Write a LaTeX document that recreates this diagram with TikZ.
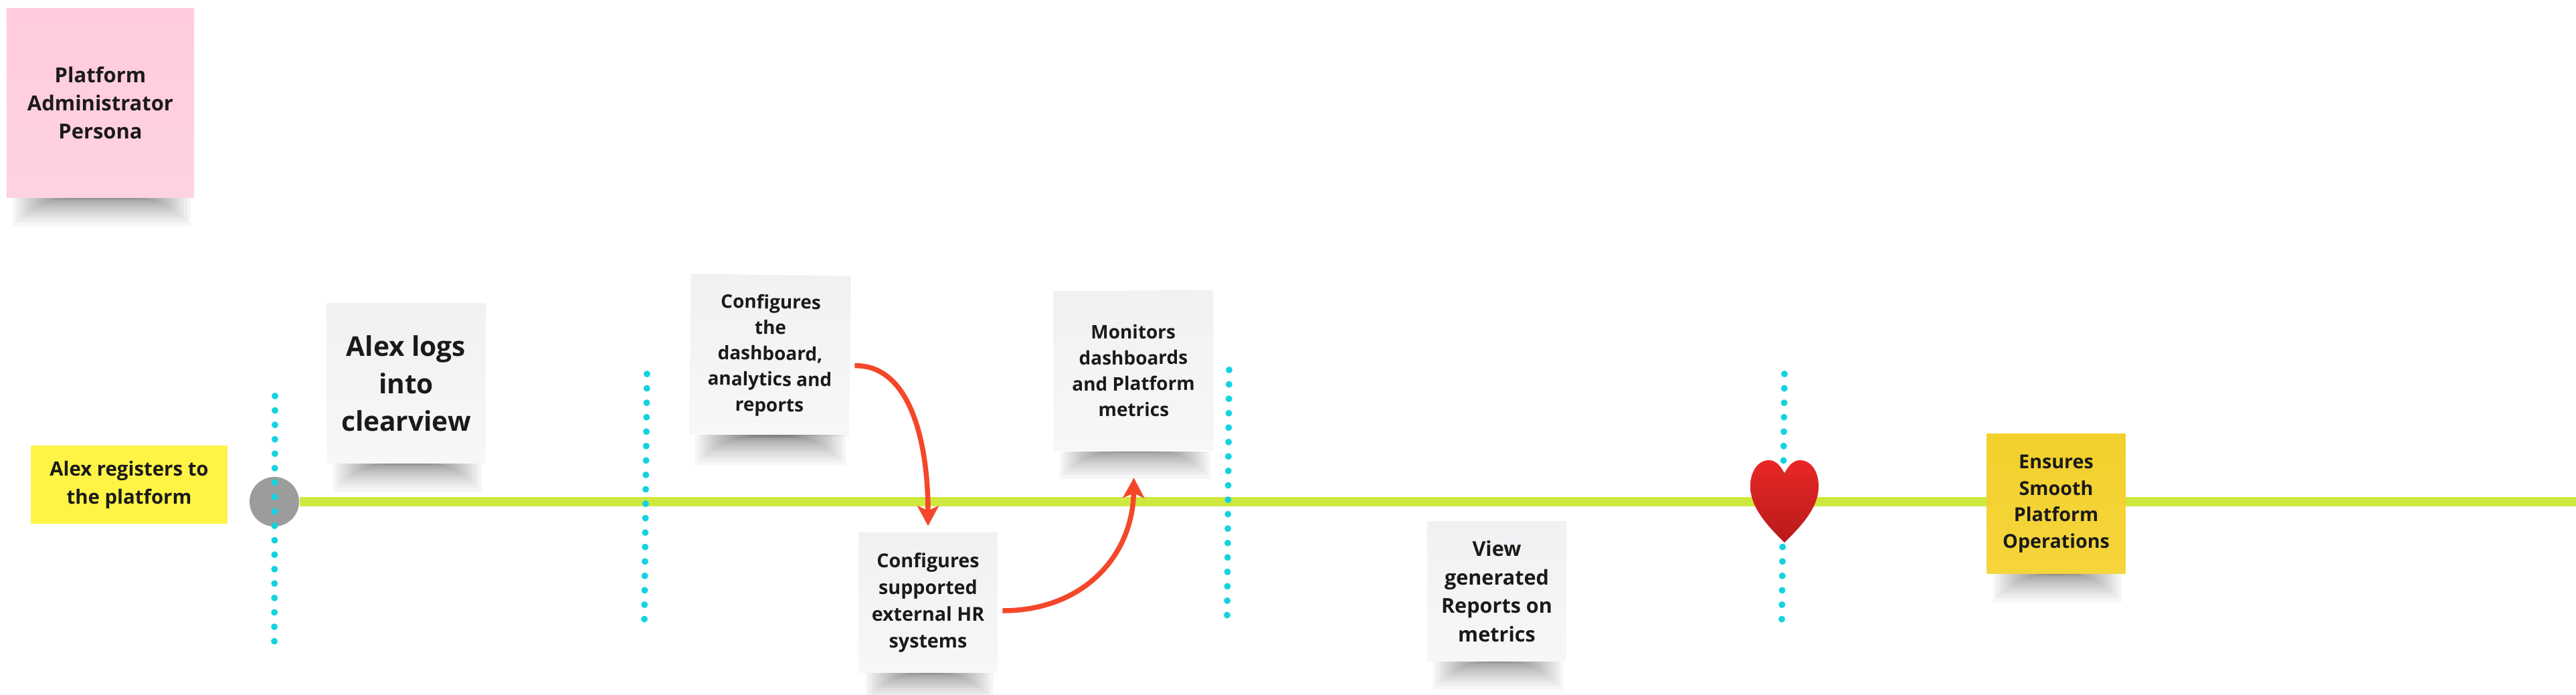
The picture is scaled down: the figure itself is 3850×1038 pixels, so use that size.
\documentclass[tikz,border=0pt]{standalone}
\usepackage{fontspec}
\setmainfont{Open Sans}
\usetikzlibrary{arrows.meta}

\definecolor{inkdark}{HTML}{1A1A1A}
\definecolor{railgreen}{HTML}{CEE83F}
\definecolor{dotcyan}{HTML}{14D3DF}
\definecolor{flowred}{HTML}{F4472A}
\definecolor{startgray}{HTML}{9C9C9C}
\definecolor{heartlight}{HTML}{E82727}
\definecolor{heartdark}{HTML}{B81A1A}
\definecolor{pink1}{HTML}{FFCBDD}
\definecolor{pink2}{HTML}{FFD2E1}
\definecolor{regyellow}{HTML}{FFF445}
\definecolor{gray1}{HTML}{F0F1F3}
\definecolor{gray2}{HTML}{F6F7F9}
\definecolor{ops1}{HTML}{F2D02C}
\definecolor{ops2}{HTML}{F5D53C}

\newcommand{\notefont}[2]{\bfseries\fontsize{#1}{#2}\selectfont}

\tikzset{
    note/.style={inner sep=0pt, align=center, text=inkdark},
    railline/.style={line width=0.14cm, railgreen},
    dotline/.style={line width=0.1cm, dotcyan, line cap=round, dash pattern=on 0pt off 0.2155cm},
    flowline/.style={->, line width=0.075cm, flowred},
}

% ombra sotto i foglietti
\newcommand{\noteshadow}[1]{%
    \foreach \i [evaluate=\i as \h using {42*(1-\i/18)^2.4}] in {0,...,17}
        \fill[black, opacity=0.035]
            ([shift={(10+\i*5,0)}]#1.south west) rectangle ([shift={(-6-\i*5,\h)}]#1.south east);
}

\begin{document}
\begin{tikzpicture}[x=0.01cm, y=-0.01cm, >={Stealth[length=0.3cm, width=0.32cm, inset=0.07cm]}]
    \useasboundingbox (0,0) rectangle (3850,1038);

    % Linea del percorso
    \coordinate (railend) at (3850,750);
    \node[circle, fill=startgray, minimum size=0.74cm, inner sep=0pt] (start) at (410,750) {};
    \draw[railline] (start.east) -- (railend);

    % Linee punteggiate
    \coordinate (dotsAtop) at (411,592);
    \coordinate (dotsAbot) at (410,959);
    \coordinate (dotsBtop) at (967,559);
    \coordinate (dotsBbot) at (963,926);
    \coordinate (dotsCtop) at (1837,553);
    \coordinate (dotsCbot) at (1834,920);
    \coordinate (dotsDtop) at (2667,559);
    \coordinate (dotsDbot) at (2663,926);
    \draw[dotline] (dotsAtop) -- (dotsAbot);
    \draw[dotline] (dotsBtop) -- (dotsBbot);
    \draw[dotline] (dotsCtop) -- (dotsCbot);
    \draw[dotline] (dotsDtop) -- (dotsDbot);

    % Foglietti
    \node[note, top color=pink1, bottom color=pink2, minimum width=2.8cm, minimum height=2.82cm, font=\notefont{8.8}{11.95}] (persona) at (150,154)
        {Platform\\Administrator\\Persona};
    \node[note, fill=regyellow, minimum width=2.94cm, minimum height=1.17cm, font=\notefont{8.35}{11.95}] (register) at (193,724.5)
        {Alex registers to\\the platform};
    \node[note, top color=gray1, bottom color=gray2, minimum width=2.37cm, minimum height=2.38cm, font=\notefont{11.55}{15.9}] (login) at (607,573)
        {Alex logs\\into\\clearview};
    \node[note, top color=gray1, bottom color=gray2, minimum width=2.39cm, minimum height=2.4cm, rotate=-0.8, font=\notefont{7.95}{10.95}] (dash) at (1151,531)
        {Configures\\the\\dashboard,\\analytics and\\reports};
    \node[note, top color=gray1, bottom color=gray2, minimum width=2.39cm, minimum height=2.39cm, rotate=0.3, font=\notefont{7.95}{11}] (monitor) at (1694,554)
        {Monitors\\dashboards\\and Platform\\metrics};
    \node[note, top color=gray1, bottom color=gray2, minimum width=2.07cm, minimum height=2.08cm, font=\notefont{8.15}{11.4}] (external) at (1387,901)
        {Configures\\supported\\external HR\\systems};
    \node[note, top color=gray1, bottom color=gray2, minimum width=2.08cm, minimum height=2.08cm, font=\notefont{8.7}{12.2}] (reports) at (2237,884)
        {View\\generated\\Reports on\\metrics};
    \node[note, top color=ops1, bottom color=ops2, minimum width=2.07cm, minimum height=2.08cm, font=\notefont{8.15}{11.25}] (operations) at (3073,753)
        {Ensures\\Smooth\\Platform\\Operations};

    % Ombre
    \noteshadow{persona}
    \noteshadow{login}
    \noteshadow{dash}
    \noteshadow{monitor}
    \noteshadow{external}
    \noteshadow{reports}
    \noteshadow{operations}

    % Frecce
    \draw[flowline] ([shift={(6,14)}]dash.east)
        .. controls (1360,545) and (1387,660) .. ([shift={(0,-10)}]external.north);
    \draw[flowline] ([shift={(7,12)}]external.east)
        .. controls (1620,913) and (1693,830) .. ([shift={(0,40)}]monitor.south);

    % Cuore
    \shade[top color=heartlight, bottom color=heartdark]
        (2667,708) .. controls (2662,697) and (2654,688) .. (2644,688)
        .. controls (2627,688) and (2616,705) .. (2616,727)
        .. controls (2616,755) and (2635,780) .. (2667,811)
        .. controls (2699,780) and (2718,755) .. (2718,727)
        .. controls (2718,705) and (2707,688) .. (2690,688)
        .. controls (2680,688) and (2672,697) .. (2667,708) -- cycle;
\end{tikzpicture}
\end{document}
